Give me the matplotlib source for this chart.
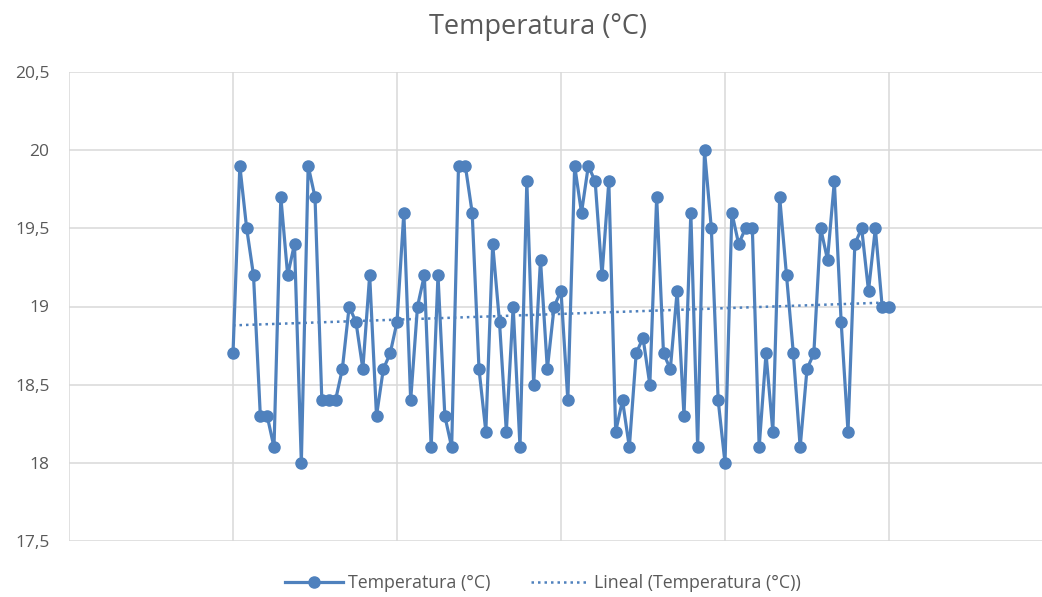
import numpy as np
import matplotlib
matplotlib.use("Agg")
import matplotlib.pyplot as plt

# Hourly temperature readings over 4 days (x in days)
temperatura = [
    18.7, 19.9, 19.5, 19.2, 18.3, 18.3, 18.1, 19.7, 19.2, 19.4,
    18.0, 19.9, 19.7, 18.4, 18.4, 18.4, 18.6, 19.0, 18.9, 18.6,
    19.2, 18.3, 18.6, 18.7, 18.9, 19.6, 18.4, 19.0, 19.2, 18.1,
    19.2, 18.3, 18.1, 19.9, 19.9, 19.6, 18.6, 18.2, 19.4, 18.9,
    18.2, 19.0, 18.1, 19.8, 18.5, 19.3, 18.6, 19.0, 19.1, 18.4,
    19.9, 19.6, 19.9, 19.8, 19.2, 19.8, 18.2, 18.4, 18.1, 18.7,
    18.8, 18.5, 19.7, 18.7, 18.6, 19.1, 18.3, 19.6, 18.1, 20.0,
    19.5, 18.4, 18.0, 19.6, 19.4, 19.5, 19.5, 18.1, 18.7, 18.2,
    19.7, 19.2, 18.7, 18.1, 18.6, 18.7, 19.5, 19.3, 19.8, 18.9,
    18.2, 19.4, 19.5, 19.1, 19.5, 19.0, 19.0,
]
hours = list(range(len(temperatura)))
y_ticks = [17.5, 18, 18.5, 19, 19.5, 20, 20.5]
y_tick_labels = ["17,5", "18", "18,5", "19", "19,5", "20", "20,5"]
x_grid = [-1, 0, 1, 2, 3, 4, 5]
title = "Temperatura (°C)"
series_label = "Temperatura (°C)"
trend_label = "Lineal (Temperatura (°C))"

x = np.array(hours) / 24.0
y = np.array(temperatura)
slope, intercept = np.polyfit(x, y, 1)

plt.rcParams['font.family'] = ['Open Sans', 'DejaVu Sans']
blue = "#4F81BD"
grey_text = "#595959"
grid_col = "#D9D9D9"

fig = plt.figure(figsize=(10.42, 5.97), dpi=100)
ax = fig.add_axes([69/1042, 56/597, (1053-69)/1042, (541-72)/597])

ax.plot(x, y, color=blue, lw=2.3, marker='o', markersize=8,
        label=series_label, zorder=3)
ax.plot(x, slope * x + intercept, color=blue, lw=1.8,
        linestyle=(0, (1, 1.6)), label=trend_label, zorder=2)

ax.set_xlim(x_grid[0], x_grid[-1])
ax.set_ylim(y_ticks[0], y_ticks[-1])
ax.set_xticks(x_grid)
ax.set_yticks(y_ticks)
ax.set_yticklabels(y_tick_labels)
ax.tick_params(axis='x', labelbottom=False, length=0)
ax.tick_params(axis='y', length=0, labelsize=12.5, colors=grey_text, pad=14)
for lbl in ax.get_yticklabels():
    lbl.set_color(grey_text)
ax.grid(True, color=grid_col, lw=1.1)
ax.set_axisbelow(True)
for s in ax.spines.values():
    s.set_visible(False)

fig.text(538/1042, 1 - 27/597, title, ha='center', va='center',
         fontsize=19.5, color=grey_text)

leg = fig.legend(loc='center', bbox_to_anchor=(543/1042, 1 - 583/597),
                 ncol=2, frameon=False, fontsize=12.8, handlelength=3.3,
                 columnspacing=2.25, handletextpad=0.28)
for t in leg.get_texts():
    t.set_color(grey_text)

fig.savefig("out.png", dpi=100)
